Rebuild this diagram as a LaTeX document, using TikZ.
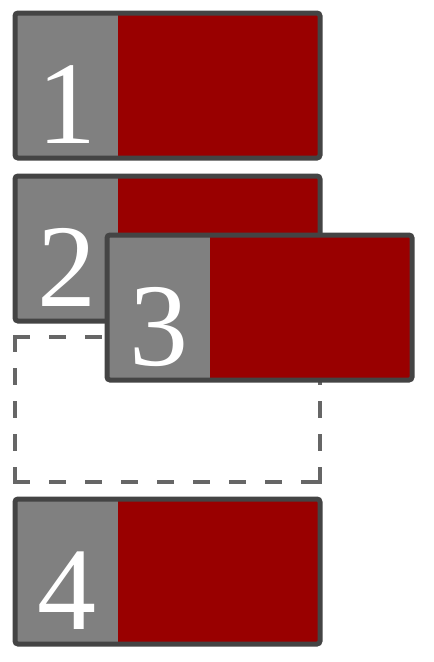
\documentclass[tikz,border=0pt]{standalone}
\usepackage{fontspec}
\setmainfont{Liberation Serif}
\definecolor{boxred}{HTML}{990000}
\definecolor{boxgray}{HTML}{808080}
\definecolor{edgegray}{HTML}{444444}
\definecolor{dashgray}{HTML}{666666}
\newcommand\drawunit[4]{% name, x, y, digit
  \fill[boxred] (#2,#3) rectangle ++(305,145);
  \fill[boxgray] (#2,#3) rectangle ++(103,145);
  \draw[frame] (#2,#3) rectangle ++(305,145);
  \node[digit] (#1) at (#2+52,#3+130) {#4};
}
\begin{document}
\begin{tikzpicture}[x=1pt,y=-1pt,
  frame/.style={draw=edgegray,line width=5pt,rounded corners=3pt},
  digit/.style={text=white,font=\fontsize{118}{118}\selectfont,inner sep=0pt,anchor=base},
  ghosth/.style={draw=dashgray,line width=4.5pt,line cap=rect,dash pattern=on 12.5pt off 23.5pt},
  ghostv/.style={draw=dashgray,line width=4.5pt,line cap=rect,dash pattern=on 12.5pt off 20.6pt}]
\useasboundingbox (0,0) rectangle (434,662);
\drawunit{one}{15}{13}{1}
\drawunit{two}{15}{176}{2}
% empty slot (dashed)
\coordinate (slotA) at (15,337);
\coordinate (slotB) at (320,337);
\coordinate (slotC) at (320,482);
\coordinate (slotD) at (15,482);
\draw[ghosth] (slotA) -- (slotB);
\draw[ghosth] (slotD) -- (slotC);
\draw[ghostv] (slotA) -- (slotD);
\draw[ghostv] (slotB) -- (slotC);
\drawunit{three}{107}{235}{3}
\drawunit{four}{15}{499}{4}
\end{tikzpicture}
\end{document}
